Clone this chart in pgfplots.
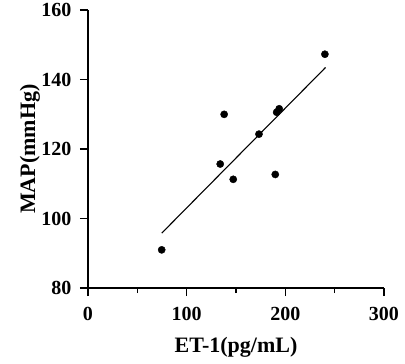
\documentclass[border=0pt]{standalone}
\usepackage{pgfplots}
\pgfplotsset{compat=1.18}
\usepackage{fontspec}
\setmainfont{Liberation Serif}

\begin{document}
\begin{tikzpicture}
\begin{axis}[
  scale only axis, width=296pt, height=278pt,
  xmin=0, xmax=300, ymin=80, ymax=160,
  axis x line*=bottom, axis y line*=left,
  xtick={0,100,200,300}, minor xtick={50,150,250},
  ytick={80,100,120,140,160},
  tick align=outside, major tick length=8pt, minor tick length=5pt,
  every tick/.style={line width=1.6pt, black},
  axis line style={line width=1.8pt},
  /pgf/number format/assume math mode=true,
  ticklabel style={font=\fontsize{20}{22}\selectfont\bfseries},
  xticklabel style={yshift=-8pt},
  yticklabel style={xshift=-5pt},
  label style={font=\fontsize{22}{24}\selectfont\bfseries},
  xlabel={ET-1(pg/mL)}, ylabel={MAP(mmHg)},
  xlabel style={at={(axis description cs:0.5,-0.212)}, anchor=center},
  ylabel style={at={(axis description cs:-0.196,0.5)}, anchor=center},
  clip=false,
]
\addplot[black, line width=1.1pt] coordinates {(74.7,95.8) (240.8,143.5)};
\addplot[only marks, mark=*, mark size=3.6pt, black] coordinates {
  (74.7,91.0) (134,115.7) (138,130.0) (147.2,111.3) (173.3,124.3)
  (189.8,112.7) (191.2,130.6) (193.8,131.6) (240.1,147.3)
};
\end{axis}
\path (-88pt,-75pt) rectangle (317pt,286pt);
\end{tikzpicture}
\end{document}
